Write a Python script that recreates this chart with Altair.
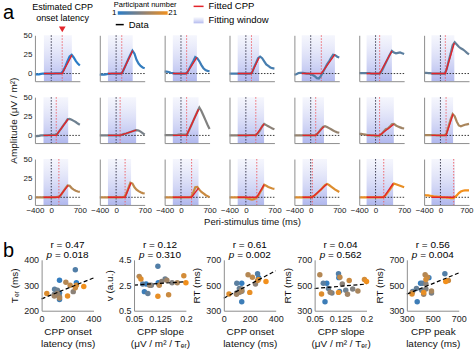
import altair as alt
import pandas as pd

FONT = "Liberation Sans"
BLUE, MID, ORANGE = "#2a7cc7", "#8b8178", "#f2901c"
RED = "#e3242b"
AXIS_GREY = "#8e8e8e"

# ---------------- panel a data ----------------
time_ms = [-400, -350, -300, -250, -200, -150, -100, -50, 0, 50, 100, 150,
           200, 250, 300, 350, 400, 450, 500, 550, 600, 650, 700]

erp_p01 = [-1, -1, -1, -0.5, 0, 0, 0, 0, 0, 0, 0.3, 0.3, 0.3, 0.5, 4, 10, 16.5, 22.5, 24.5, 21, 16.5, 13, 10.5]
erp_p02 = [-1, -1.5, -1.5, -1, -0.5, -0.5, 0, 0, 0, 0, 0, 1, 7, 13, 19, 24.5, 30, 26, 18, 13, 10, 8, 7]
erp_p03 = [2.5, 2.5, 2, 1, 0.5, 0, 0, 0, 0, 0, 0, 1, 6, 11, 16, 21.5, 20, 16, 11, 7, 4.5, 3.5, 3]
erp_p04 = [0, 0, 0, 0, 0, 0, 0, 0, 0, 0, 0, 1, 8, 14, 20, 22, 20, 16, 12, 10, 8, 7, 6.5]
erp_p05 = [-1.5, -1, 0.5, 1, 1, 0.5, 0, 0, -1, -2, -3.5, -6, -6.5, -3, 2, 7, 12, 16, 20.5, 24.5, 24, 22, 21]
erp_p06 = [0.5, 0.5, 0.5, 0.5, 0.5, 0.5, 0, 0, 0, 0, 0, 3, 8.5, 14, 19.5, 25, 29.5, 27.5, 26.5, 27, 27.5, 26.5, 25.5]
erp_p07 = [1, 1, 0.5, 0.5, 0, 0, 0, 0, 0, 0, 0, 5, 16, 26, 37, 41, 38, 35, 33, 31.5, 29.5, 27, 25]
erp_p08 = [-1, -1, -0.5, 0, 0, 0, 0, 0.5, 0.5, 0.8, 1, 2, 6, 9.5, 13.5, 17, 21, 21.5, 20.5, 19, 17.5, 15.5, 14]
erp_p09 = [0, 0, 0, 0, 0, 0, 0, 0, 0, 0, 0, 1, 2, 2.5, 3.5, 4.5, 5.5, 6.5, 7, 6.5, 5, 3, 1]
erp_p10 = [0.5, 0.5, 0.5, 0.5, 0.5, 0.5, 0.5, 1, 1, 1, 1, 1.5, 7, 13, 19, 25, 31, 36.5, 32, 26, 20, 14, 8.5]
erp_p11 = [0, 0, 0, 0, 0, 0, 0, 0, 0, 0, 0.5, 0.5, 0.5, 0.5, 3, 7, 12, 15, 13.5, 12, 10.5, 9, 8]
erp_p12 = [0, 0, 0, 0, 0, 0, 0, 0, 0, 0, 0, 1.5, 4.5, 8, 11, 12, 11, 9.5, 8, 6.5, 5, 4, 3.5]
erp_p13 = [2, 2, 1.5, 1, 0.5, 0.5, 0, 0, -0.5, -1, 0, 2, 5, 8, 9, 11.5, 14.5, 15, 13, 11.5, 10.5, 9.5, 9]
erp_p14 = [0.5, 0.5, 0.5, 0.5, 0.5, 0.5, 0, 0, 0, 0, 0, 3, 12, 21, 28, 25, 18, 13, 12, 13, 14, 14.5, 15]
erp_p15 = [0, 0, 0, 0, 0, 0, 0, 0, 0, 0, 0, 0.5, 1, 4, 8, 12, 15.5, 15, 12, 10, 8.5, 7.5, 7]
erp_p16 = [0, 0, 0, 0, 0, 0, 0, 0, 0, 0, 0, 0, 0.5, 5, 12, 19, 18, 13, 10, 8, 6.5, 5.5, 5]
erp_p17 = [0, 0, 0, 0, 0, 0, 0, 0, 0, 0, 0, 0, 0, 0.5, 6, 13, 13.5, 10, 7, 5, 3, 1.5, 0]
erp_p18 = [0, 0, 0, 0, 0, 0, 0, 0, -0.5, -1.5, -2.5, -3, -2.5, -1, 2, 6.5, 11, 16.5, 15, 13.5, 12.5, 11.5, 11]
erp_p19 = [0, 0, 0, 0, 0, 0, 0, 0, 0, 1, 2.5, 5, 7.5, 10, 13, 16, 17.5, 16, 14, 12, 10, 8.5, 7]
erp_p20 = [0, 0, 0, 0, 0, 0, 0, 0, 0, 0, 0, 0, 0.5, 3, 6.5, 10, 14, 18, 17, 16, 15, 14, 13]
erp_p21 = [3, 2.5, 2.5, 2, 1.5, 1, 1, 0.5, 0.5, 0, 0, -0.5, -0.5, -1, -1, 0, 2.5, 5.5, 7.5, 8.5, 9, 9, 9]
erp = [erp_p01, erp_p02, erp_p03, erp_p04, erp_p05, erp_p06, erp_p07,
       erp_p08, erp_p09, erp_p10, erp_p11, erp_p12, erp_p13, erp_p14,
       erp_p15, erp_p16, erp_p17, erp_p18, erp_p19, erp_p20, erp_p21]

onset_ms = [268, 138, 138, 138, 260, 100, 120, 122, 98, 138, 244, 122, 98, 138,
            187, 220, 260, 268, 40, 200, 325]
win_start = [-180, -200, -200, -200, -220, -220, -220, -190, -200, -200, -200, -200, -220, -220,
             -190, -200, -200, -200, -200, -220, -220]
win_end = [505, 406, 390, 325, 593, 400, 340, 415, 490, 430, 447, 325, 447, 310,
           415, 366, 430, 447, 400, 430, 355]
fit_end = [24, 30, 21, 21, 25, 29.5, 40, 21.5, 7, 34, 15, 11.5, 14.5, 28,
           15.5, 19, 12, 16.5, 17.5, 18, 1]

# ---------------- panel b data ----------------
ter_ms = [310, 320, 244, 270, 361, 284, 262, 280, 265, 255, 275, 268, 258, 250,
          312, 300, 290, 300, 268, 258, 295]
cpp_slope = [0.12, 0.085, 0.08, 0.122, 0.119, 0.075, 0.09, 0.14, 0.10, 0.16, 0.13, 0.095, 0.145, 0.175,
             0.065, 0.123, 0.15, 0.194, 0.07, 0.119, 0.2]
drift_v = [2.7, 2.6, 2.0, 2.6, 4.0, 2.6, 1.85, 3.0, 2.5, 2.7, 2.8, 2.5, 2.9, 2.7,
           3.2, 2.5, 1.75, 3.25, 3.0, 1.63, 2.7]
rt_ms = [560, 515, 371, 452, 590, 515, 475, 460, 440, 470, 510, 445, 430, 455,
         582, 563, 537, 545, 432, 444, 530]
peak_ms = [470, 406, 380, 345, 593, 420, 374, 415, 490, 447, 447, 341, 430, 490,
           441, 460, 620, 447, 340, 430, 600]
stat_r = ["r = 0.47", "r = 0.12", "r = 0.61", "r = 0.04", "r = 0.56"]
stat_p = ["= 0.018", "= 0.310", "= 0.002", "= 0.562", "= 0.004"]

participants = list(range(1, 22))
ONE = pd.DataFrame({"k": [0]})
cscale = alt.Scale(domain=[1, 11, 21], range=[BLUE, MID, ORANGE], interpolate="rgb")

AW, AH = 45, 46
window_fill = alt.LinearGradient(
    gradient="linear",
    stops=[alt.GradientStop(color="rgba(214,218,246,0.25)", offset=0),
           alt.GradientStop(color="rgba(168,176,236,0.9)", offset=1)],
    x1=0, x2=0, y1=0, y2=1)


def txt(s, x, y, size, align="center", color="black", baseline="middle", weight="normal", style="normal"):
    return alt.Chart(ONE).mark_text(text=s, fontSize=size, font=FONT, align=align,
                                    baseline=baseline, color=color, fontWeight=weight,
                                    fontStyle=style).encode(
        x=alt.value(x), y=alt.value(y))


def legend_layers():
    L = []
    L.append(alt.Chart(ONE).mark_rule(strokeOpacity=0).encode(
        x=alt.value(-34), x2=alt.value(-33), y=alt.value(-34)))
    L.append(txt("a", -32, -16, 20, align="left", baseline="alphabetic"))
    L.append(txt("Estimated CPP", 27.7, -28, 9))
    L.append(txt("onset latency", 27.7, -17.5, 9))
    L.append(alt.Chart(ONE).mark_point(shape="triangle-down", filled=True, size=45, color=RED, opacity=1)
             .encode(x=alt.value(27.4), y=alt.value(-6)))
    L.append(txt("Participant number", 110.5, -30, 7.5))
    bar = alt.LinearGradient(gradient="linear",
                             stops=[alt.GradientStop(color=BLUE, offset=0),
                                    alt.GradientStop(color=MID, offset=0.5),
                                    alt.GradientStop(color=ORANGE, offset=1)],
                             x1=0, x2=1, y1=0, y2=0)
    L.append(alt.Chart(ONE).mark_rect(color=bar).encode(
        x=alt.value(83), x2=alt.value(133), y=alt.value(-24), y2=alt.value(-20.5)))
    L.append(txt("1", 79.5, -22.3, 8))
    L.append(txt("21", 138, -22.3, 8))
    L.append(alt.Chart(ONE).mark_rule(color="black", strokeWidth=1.5).encode(
        x=alt.value(81), x2=alt.value(89), y=alt.value(-10.7)))
    L.append(txt("Data", 94, -10.7, 9.5, align="left"))
    L.append(alt.Chart(ONE).mark_rule(color=RED, strokeWidth=1.5).encode(
        x=alt.value(159), x2=alt.value(169), y=alt.value(-29)))
    L.append(txt("Fitted CPP", 174, -29, 9.5, align="left"))
    L.append(alt.Chart(ONE).mark_rect(color=window_fill).encode(
        x=alt.value(159), x2=alt.value(169), y=alt.value(-18), y2=alt.value(-12)))
    L.append(txt("Fitting window", 174, -15, 9.5, align="left"))
    return L


def a_cell(i):
    pid = participants[i]
    r, c = divmod(i, 7)
    xs = alt.Scale(domain=[-400, 700], nice=False, zero=False)
    ys = alt.Scale(domain=[-10, 50], nice=False, zero=False)
    xkw = dict(values=[-400, 0, 700], labels=(r == 2), ticks=False, grid=False,
               domainColor=AXIS_GREY, domainWidth=1, labelFontSize=8, labelPadding=2,
               labelFlush=False, zindex=1, titleFontSize=9.5, titleFontWeight="normal",
               titlePadding=2)
    xkw["title"] = "Peri-stimulus time (ms)" if i == 17 else ""
    if c == 6:
        xkw["labelAlign"] = {"condition": {"test": "datum.value >= 700", "value": "right"}, "value": "center"}
        xkw["labelOffset"] = {"condition": {"test": "datum.value >= 700", "value": 4}, "value": 0}
    ykw = dict(values=[0, 25, 50], labels=(c == 0), ticks=False, grid=False,
               domainColor=AXIS_GREY, domainWidth=1, labelFontSize=8, labelPadding=3,
               zindex=1, titleFontSize=10, titleFontWeight="normal", titlePadding=5)
    ykw["title"] = "Amplitude (\u03bcV / m\u00b2)" if i == 7 else ""
    xax, yax = alt.Axis(**xkw), alt.Axis(**ykw)

    win = pd.DataFrame({"t0": [win_start[i]], "t1": [win_end[i]], "a0": [-10], "a1": [50]})
    curve = pd.DataFrame({"t": time_ms, "amp": erp[i], "pid": pid})
    fit = pd.DataFrame({"t": [win_start[i], onset_ms[i], win_end[i]], "amp": [0, 0, fit_end[i]]})
    zero_t = pd.DataFrame({"t": [0]})
    onset_t = pd.DataFrame({"t": [onset_ms[i]]})
    zero_a = pd.DataFrame({"amp": [0]})

    X = alt.X("t:Q", scale=xs, axis=xax)
    Y = alt.Y("amp:Q", scale=ys, axis=yax)
    layers = [
        alt.Chart(win).mark_rect(color=window_fill).encode(
            x=alt.X("t0:Q", scale=xs, axis=xax), x2="t1:Q",
            y=alt.Y("a0:Q", scale=ys, axis=yax), y2="a1:Q"),
        alt.Chart(zero_t).mark_rule(color="#2a2a40", strokeDash=[1.5, 1.5], strokeWidth=0.9).encode(x=X),
        alt.Chart(onset_t).mark_rule(color="#ee5a60", strokeDash=[1.5, 1.5], strokeWidth=0.9).encode(x=X),
        alt.Chart(zero_a).mark_rule(color="#222222", strokeDash=[1.5, 1.5], strokeWidth=0.9).encode(y=Y),
        alt.Chart(curve).mark_line(strokeWidth=2.2).encode(
            x=X, y=Y, color=alt.Color("pid:Q", scale=cscale, legend=None)),
        alt.Chart(fit).mark_line(color=RED, strokeWidth=1.4).encode(x=X, y=Y),
    ]
    if i == 0:
        layers += legend_layers()
    return alt.layer(*layers).properties(width=AW, height=AH)


# ---------------- panel b ----------------
BW_PLOT, BH = 52, 51
# pixel offset of each scatter plot inside its grid slot
b_offset = [6.7, 34.3, 59.3, 20.3, 47.7]
dfb = pd.DataFrame({"pid": participants, "onset": onset_ms, "ter": ter_ms, "slope": cpp_slope,
                    "v": drift_v, "rt": rt_ms, "peak": peak_ms})
slope_title = ["CPP slope", "(\u03bcV / m\u00b2 / T\u2091\u1d63)"]
b_specs = [
    ("onset", "ter", [0, 400], [200, 400], [0, 200, 400], [200, 300, 400], "T\u2091\u1d63 (ms)",
     ["CPP onset", "latency (ms)"], [0, 400]),
    ("slope", "v", [0.05, 0.2], [0.5, 4.5], [0.05, 0.125, 0.2], [0.5, 2.5, 4.5], "v (a.u.)",
     slope_title, [0.05, 0.2]),
    ("onset", "rt", [0, 400], [300, 700], [0, 200, 400], [300, 500, 700], "RT (ms)",
     ["CPP onset", "latency (ms)"], [0, 400]),
    ("slope", "rt", [0.05, 0.2], [300, 700], [0.05, 0.125, 0.2], [300, 500, 700], "RT (ms)",
     slope_title, [0.05, 0.2]),
    ("peak", "rt", [300, 700], [300, 700], [300, 500, 700], [300, 500, 700], "RT (ms)",
     ["CPP peak", "latency (ms)"], [300, 700]),
]


def b_cell(k):
    xf, yf, xd, yd, xv, yv, yt, xt, ext = b_specs[k]
    off = b_offset[k]
    xs = alt.Scale(domain=xd, nice=False, zero=False, range=[off, off + BW_PLOT])
    ys = alt.Scale(domain=yd, nice=False, zero=False)
    xax = alt.Axis(values=xv, title=xt, ticks=False, grid=False, domainColor=AXIS_GREY,
                   labelFontSize=9, labelPadding=4, labelFlush=False,
                   labelExpr="'' + datum.value",
                   titleFontSize=10, titleFontWeight="normal", titleLineHeight=11.5,
                   titlePadding=3, zindex=1)
    yax = alt.Axis(values=yv, title=yt, ticks=False, grid=False, domainColor=AXIS_GREY,
                   labelFontSize=9, labelPadding=3, titleFontSize=10, titleFontWeight="normal",
                   titlePadding=4, offset=-off, zindex=1, labelExpr="'' + datum.value")
    X = alt.X(f"{xf}:Q", scale=xs, axis=xax)
    Y = alt.Y(f"{yf}:Q", scale=ys, axis=yax)
    pts = alt.Chart(dfb).mark_circle(size=30, opacity=1).encode(
        x=X, y=Y, color=alt.Color("pid:Q", scale=cscale, legend=None))
    reg = alt.Chart(dfb).transform_regression(xf, yf, extent=ext).mark_line(
        color="black", strokeDash=[4, 2.5], strokeWidth=1.2).encode(x=X, y=Y)
    cx = off + BW_PLOT / 2
    layers = [pts, reg,
              txt(stat_r[k], cx, -15, 10),
              txt("p", cx - 21, -4.5, 10, align="left", style="italic"),
              txt(stat_p[k], cx - 12.6, -4.5, 10, align="left")]
    if k == 0:
        layers.append(txt("b", -32, -3, 20, align="left", baseline="alphabetic"))
    return alt.layer(*layers).properties(width=AW, height=BH)


def spacer(h):
    return alt.Chart(ONE).mark_point(opacity=0).properties(width=AW, height=h)


cells = [a_cell(i) for i in range(21)]
cells += [spacer(23) for _ in range(7)]
cells += [b_cell(0), b_cell(1), b_cell(2), spacer(BH), b_cell(3), b_cell(4), spacer(BH)]

chart = alt.concat(*cells, columns=7, spacing={"row": 16, "column": 20}, bounds="flush",
                   align={"row": "each", "column": "all"}).properties(
    padding={"left": 0, "top": 0, "right": 0, "bottom": 0}
).configure_view(stroke="transparent").configure_axis(
    labelFont=FONT, titleFont=FONT, labelColor="#222222", titleColor="#111111"
).configure_title(font=FONT)

chart.save("out.html", embed_options={"renderer": "svg", "actions": False})
